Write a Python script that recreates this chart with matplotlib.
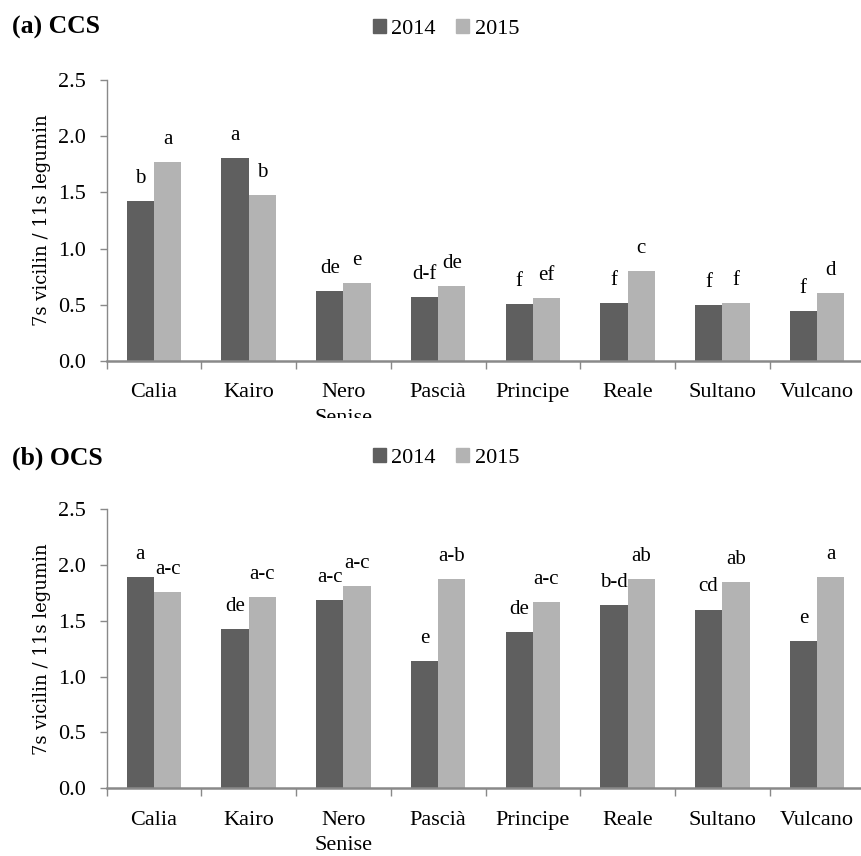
import matplotlib
matplotlib.use('Agg')
import matplotlib.pyplot as plt
import numpy as np
from matplotlib.patches import Rectangle, Patch

plt.rcParams['font.family'] = ['Liberation Serif', 'DejaVu Serif']

categories = ['Calia', 'Kairo', 'Nero\nSenise', 'Pascià', 'Principe', 'Reale', 'Sultano', 'Vulcano']
years = ['2014', '2015']

ccs_2014 = [1.42, 1.81, 0.62, 0.567, 0.51, 0.519, 0.50, 0.448]
ccs_2015 = [1.77, 1.475, 0.694, 0.668, 0.558, 0.798, 0.513, 0.608]
ccs_letters_2014 = ['b', 'a', 'de', 'd-f', 'f', 'f', 'f', 'f']
ccs_letters_2015 = ['a', 'b', 'e', 'de', 'ef', 'c', 'f', 'd']

ocs_2014 = [1.89, 1.426, 1.686, 1.143, 1.40, 1.64, 1.60, 1.318]
ocs_2015 = [1.755, 1.716, 1.81, 1.87, 1.67, 1.87, 1.85, 1.888]
ocs_letters_2014 = ['a', 'de', 'a-c', 'e', 'de', 'b-d', 'cd', 'e']
ocs_letters_2015 = ['a-c', 'a-c', 'a-c', 'a-b', 'a-c', 'ab', 'ab', 'a']

yticks = [0.0, 0.5, 1.0, 1.5, 2.0, 2.5]
ylabel = '7s vicilin / 11s legumin'

C14 = '#5f5f5f'
C15 = '#b3b3b3'
GRAY = '#898989'

W, H = 861, 856
fig = plt.figure(figsize=(W / 100, H / 100), dpi=100)


def panel(rect, v14, v15, l14, l15, title, title_y, legend_y):
    ax = fig.add_axes(rect)
    x = np.arange(len(categories))
    w = 0.288
    ax.bar(x - w / 2, v14, w, color=C14, label=years[0], zorder=2)
    ax.bar(x + w / 2, v15, w, color=C15, label=years[1], zorder=2)
    for xs, vals, labs in ((x - w / 2, v14, l14), (x + w / 2, v15, l15)):
        for xi, v, l in zip(xs, vals, labs):
            ax.annotate(l, (xi, v), xytext=(0, 13), textcoords='offset points',
                        ha='center', va='baseline', fontsize=15)
    ax.set_xlim(-0.5, 7.5)
    ax.set_ylim(0, 2.5)
    ax.set_yticks(yticks)
    ax.set_yticklabels([f'{t:.1f}' for t in yticks])
    ax.set_xticks(x)
    ax.set_xticklabels(categories, linespacing=1.45)
    ax.set_xticks(np.arange(-0.5, 7.0, 1.0), minor=True)
    ax.tick_params(axis='x', which='major', length=0, pad=16, labelsize=16)
    ax.tick_params(axis='x', which='minor', length=6, width=1, color=GRAY)
    ax.tick_params(axis='y', length=5, width=1, color=GRAY, pad=10, labelsize=16)
    for s in ('top', 'right'):
        ax.spines[s].set_visible(False)
    ax.spines['left'].set_color(GRAY)
    ax.spines['left'].set_linewidth(1.0)
    ax.spines['bottom'].set_color(GRAY)
    ax.spines['bottom'].set_linewidth(1.8)
    ax.set_ylabel(ylabel, fontsize=13, family=['DejaVu Serif'])
    ax.yaxis.set_label_coords(-0.073, 0.5)
    fig.text(12 / W, title_y, title, fontweight='bold', fontsize=18.5,
             va='center', ha='left')
    handles = [Patch(color=C14, label=years[0]), Patch(color=C15, label=years[1])]
    fig.legend(handles=handles, loc='center', bbox_to_anchor=(0.518, legend_y),
               ncol=2, frameon=False, fontsize=16, handlelength=0.6,
               handleheight=0.6, handletextpad=0.25, columnspacing=0.9)
    return ax


ax_a = panel([106.7 / W, 1 - 361 / H, 757.6 / W, 281 / H],
             ccs_2014, ccs_2015, ccs_letters_2014, ccs_letters_2015,
             '(a) CCS', 1 - 27 / H, 1 - 29 / H)
ax_b = panel([106.7 / W, 1 - 788.3 / H, 757.6 / W, 279.3 / H],
             ocs_2014, ocs_2015, ocs_letters_2014, ocs_letters_2015,
             '(b) OCS', 1 - 458 / H, 1 - 458 / H)

# the second line of "Nero Senise" in panel (a) is hidden by panel (b)
fig.add_artist(Rectangle((0, 1 - 442 / H), 1, (442 - 418) / H,
                         transform=fig.transFigure, facecolor='white',
                         edgecolor='none', zorder=5))

fig.savefig('out.png', dpi=100)
